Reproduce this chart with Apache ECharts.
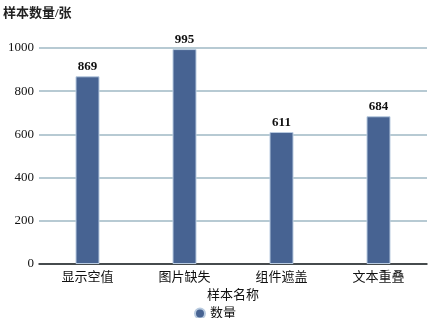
<!DOCTYPE html>
<html><head><meta charset="utf-8">
<script src="https://cdn.jsdelivr.net/npm/echarts@6/dist/echarts.min.js"></script>
<style>html,body{margin:0;padding:0;background:#fff}#c{width:430px;height:318px}</style>
</head><body><div id="c"></div>
<script>
const categories = ['显示空值','图片缺失','组件遮盖','文本重叠'];
const values = [869, 995, 611, 684];
const seriesName = '数量';
const yTicks = [0, 200, 400, 600, 800, 1000];
const font = '"Liberation Serif", "Noto Sans CJK SC", serif';
const chart = echarts.init(document.getElementById('c'));
chart.setOption({
  animation: false,
  textStyle: {fontFamily: font},
  grid: {left: 38, right: 3, top: 48, bottom: 54, containLabel: false},
  legend: {top: 302, left: 'center', icon: 'circle', itemWidth: 10, itemHeight: 10, itemGap: 4,
    textStyle: {fontFamily: font, fontSize: 13, color: '#111'}, data: [seriesName]},
  xAxis: {type: 'category', data: categories, name: '样本名称', nameLocation: 'middle', nameGap: 24,
    nameTextStyle: {fontFamily: font, fontSize: 13, color: '#111'},
    axisLine: {lineStyle: {color: '#222', width: 1.5}},
    axisTick: {alignWithLabel: true, length: 4, lineStyle: {color: '#222'}},
    axisLabel: {fontFamily: font, fontSize: 13, color: '#111', margin: 7}},
  yAxis: {type: 'value', min: 0, max: 1000, interval: 200, name: '样本数量/张',
    nameLocation: 'end', nameGap: 28, nameTextStyle: {fontFamily: font, fontSize: 13, fontWeight: 'bold', color: '#222', align: 'left', padding: [0,0,0,-36]},
    axisLine: {show: false}, axisTick: {show: false},
    axisLabel: {fontFamily: font, fontSize: 13, color: '#111', margin: 5,
      formatter: v => yTicks.includes(v) ? String(v) : ''},
    splitLine: {lineStyle: {color: '#9fb9c4', width: 1.5}}},
  series: [{name: seriesName, type: 'bar', data: values, barWidth: 24,
    itemStyle: {color: '#476392', borderColor: '#b9cbe0', borderWidth: 1},
    label: {show: true, position: 'top', distance: 3, fontFamily: font, fontSize: 13, fontWeight: 'bold', color: '#111'}}]
});
</script></body></html>
